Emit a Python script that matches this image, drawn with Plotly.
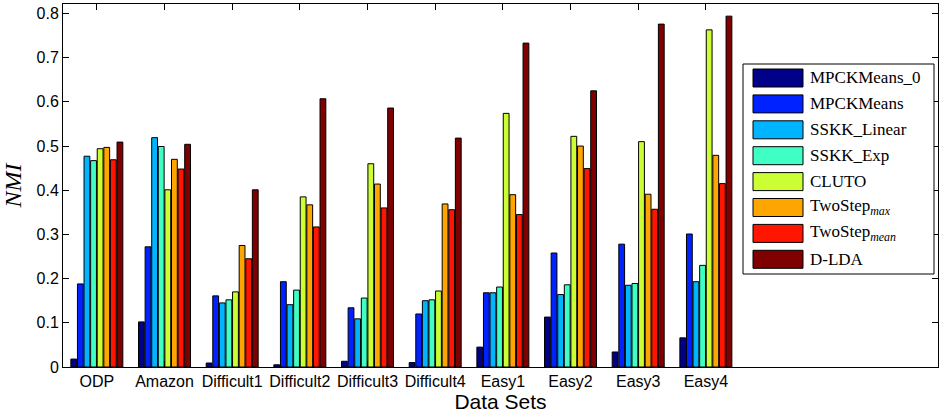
import plotly.graph_objects as go

categories = ["ODP", "Amazon", "Difficult1", "Difficult2", "Difficult3",
              "Difficult4", "Easy1", "Easy2", "Easy3", "Easy4"]
series_names = ["MPCKMeans_0", "MPCKMeans", "SSKK_Linear", "SSKK_Exp", "CLUTO",
                "TwoStep<sub><i>max</i></sub>", "TwoStep<sub><i>mean</i></sub>", "D-LDA"]
mpckmeans0   = [0.018, 0.102, 0.009, 0.005, 0.013, 0.010, 0.045, 0.113, 0.034, 0.066]
mpckmeans    = [0.188, 0.272, 0.161, 0.193, 0.134, 0.120, 0.168, 0.258, 0.278, 0.301]
sskk_linear  = [0.477, 0.519, 0.145, 0.141, 0.109, 0.150, 0.168, 0.164, 0.185, 0.193]
sskk_exp     = [0.467, 0.499, 0.152, 0.174, 0.156, 0.152, 0.181, 0.186, 0.189, 0.230]
cluto        = [0.494, 0.401, 0.170, 0.385, 0.460, 0.172, 0.574, 0.522, 0.510, 0.763]
twostep_max  = [0.497, 0.470, 0.275, 0.367, 0.414, 0.369, 0.390, 0.500, 0.391, 0.479]
twostep_mean = [0.469, 0.448, 0.245, 0.317, 0.360, 0.356, 0.345, 0.449, 0.357, 0.415]
dlda         = [0.509, 0.504, 0.401, 0.607, 0.586, 0.518, 0.733, 0.625, 0.776, 0.794]
y_ticks = [0, 0.1, 0.2, 0.3, 0.4, 0.5, 0.6, 0.7, 0.8]

all_series = [mpckmeans0, mpckmeans, sskk_linear, sskk_exp, cluto,
              twostep_max, twostep_mean, dlda]
colors = ["#000088", "#0022FF", "#00B4FF", "#40FFC4", "#CCFF33",
          "#FFA500", "#FF1500", "#7F0000"]

W, H = 939, 413
L, R, T, B = 63, 1, 4, 46
x_pos = list(range(1, len(categories) + 1))

fig = go.Figure()
for name, vals, col in zip(series_names, all_series, colors):
    fig.add_trace(go.Bar(x=x_pos, y=vals, name=name,
                         marker=dict(color=col, line=dict(color="black", width=1)),
                         showlegend=False))

# manual MATLAB-like legend (pixel geometry -> paper coords)
pw, ph = W - L - R, H - T - B
def px(x):
    return (x - L) / pw
def py(y):
    return (H - B - y) / ph

shapes = [dict(type="rect", xref="paper", yref="paper", x0=px(743), x1=px(934), y0=py(274), y1=py(64),
               line=dict(color="black", width=1), fillcolor="white", layer="above")]
annotations = []
for i, (name, col) in enumerate(zip(series_names, colors)):
    cy = 78 + i * 25.9
    shapes.append(dict(type="rect", xref="paper", yref="paper", x0=px(753), x1=px(803),
                       y0=py(cy + 9), y1=py(cy - 9), line=dict(color="black", width=1),
                       fillcolor=col, layer="above"))
    annotations.append(dict(xref="paper", yref="paper", x=px(808), y=py(cy), text=name, showarrow=False,
                            xanchor="left", yanchor="middle",
                            font=dict(family="Liberation Serif", size=17, color="black")))

fig.update_layout(
    width=W, height=H,
    margin=dict(l=L, r=R, t=T, b=B, autoexpand=False),
    paper_bgcolor="white", plot_bgcolor="white",
    barmode="group", bargap=0.22, bargroupgap=0.12,
    font=dict(family="Liberation Sans", size=16, color="black"),
    shapes=shapes, annotations=annotations,
)
fig.update_xaxes(range=[0.5, 0.5 + pw / 67.67], tickvals=x_pos, ticktext=categories,
                 ticks="inside", ticklen=6, tickcolor="black", mirror="allticks",
                 showline=True, linecolor="black", linewidth=1, showgrid=False, zeroline=False,
                 tickfont=dict(size=16), automargin=False,
                 title=dict(text="Data Sets", font=dict(size=21), standoff=4))
fig.update_yaxes(range=[0, 0.8215], tickvals=y_ticks, ticktext=[("%g" % v) for v in y_ticks],
                 ticks="inside", ticklen=6, tickcolor="black", mirror="allticks",
                 showline=True, linecolor="black", linewidth=1, showgrid=False, zeroline=False,
                 tickfont=dict(size=16), automargin=False,
                 title=dict(text="<i>NMI</i>", font=dict(family="Liberation Serif", size=24), standoff=14))

fig.write_html("out.html", config={"displayModeBar": False},
               post_script="document.body.style.margin='0';document.body.style.padding='0';")
